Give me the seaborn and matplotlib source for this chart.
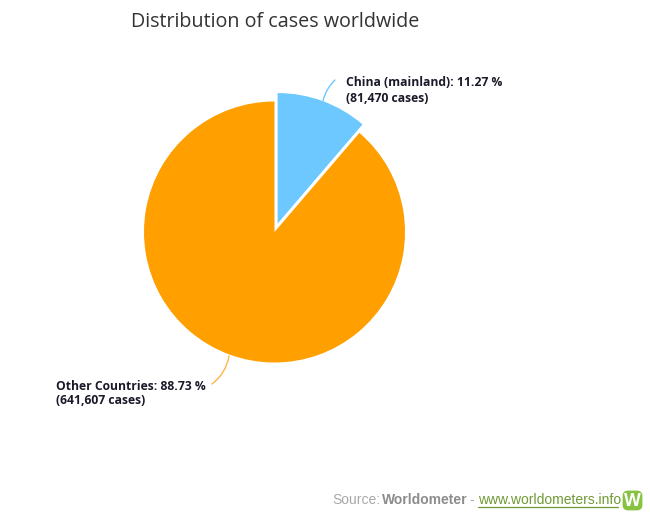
import matplotlib
matplotlib.use("Agg")
import matplotlib.pyplot as plt
from matplotlib.patches import FancyBboxPatch
import seaborn as sns

# Data
regions = ["China (mainland)", "Other Countries"]
shares = [11.27, 88.73]
cases = ["81,470", "641,607"]
colors = ["#6cc8ff", "#ff9f00"]

W, H = 650, 515

sns.set_theme(style = "white")
plt.rcParams['font.family'] = ['Open Sans', 'DejaVu Sans']

fig = plt.figure(figsize = (W / 100, H / 100), dpi = 100)
ax = fig.add_axes([0, 0, 1, 1])

# Pie is drawn in pixel-like axis units, so y is measured from the top
def top(y):
    return H - y

# explode is not scaled by the radius, so it is in the same units
ax.pie(shares, colors = colors, explode = [9, 0], startangle = 90, counterclock = False,
       radius = 130.5, center = (274.5, top(232)), wedgeprops = {'linewidth': 0})

ax.set_xlim(0, W)
ax.set_ylim(0, H)
ax.set_aspect("equal")
ax.axis("off")

# Title
ax.text(131, top(22), "Distribution of cases worldwide", fontsize = 14.2, color = "#333333",
        va = "center", ha = "left")

# Labels with their curved connectors
label_style = {'fontsize': 8.7, 'fontweight': "bold", 'color': "#1a1a2a", 'va': "center", 'ha': "left"}
ax.text(346, top(82), f"{regions[0]}: {shares[0]} %", **label_style)
ax.text(346, top(98), f"({cases[0]} cases)", **label_style)
ax.text(56, top(386.5), f"{regions[1]}: {shares[1]} %", **label_style)
ax.text(56, top(401), f"({cases[1]} cases)", **label_style)

ax.annotate("", xy = (335, top(80)), xytext = (323, top(101)),
            arrowprops = dict(arrowstyle = "-", color = colors[0], lw = 1,
                              connectionstyle = "arc3,rad=-0.15", shrinkA = 0, shrinkB = 0))
ax.annotate("", xy = (212, top(384)), xytext = (229, top(356)),
            arrowprops = dict(arrowstyle = "-", color = "#ffb54a", lw = 1,
                              connectionstyle = "arc3,rad=-0.2", shrinkA = 0, shrinkB = 0))

# Source line
source_style = {'fontsize': 10, 'family': "Liberation Sans", 'va': "center", 'ha': "left"}
ax.text(332, top(500), "Source:", color = "#a8a8a8", **source_style)
ax.text(382, top(500), "Worldometer", color = "#8c8c8c", fontweight = "bold", **source_style)
ax.text(469, top(500), "-", color = "#a8a8a8", **source_style)
ax.text(478, top(500), "www.worldometers.info", color = "#6f9a35", **source_style)
ax.plot([478, 618], [top(506.5), top(506.5)], color = "#6f9a35", lw = 0.9)

# Logo
ax.add_patch(FancyBboxPatch((624, top(509)), 17, 17, boxstyle = "round,pad=0,rounding_size=4",
                            facecolor = "#86c440", edgecolor = "#86c440", lw = 2))
ax.text(632.5, top(500.5), "W", color = "white", fontsize = 12.5, fontweight = "bold",
        ha = "center", va = "center")

fig.savefig("out.png", dpi = 100)
